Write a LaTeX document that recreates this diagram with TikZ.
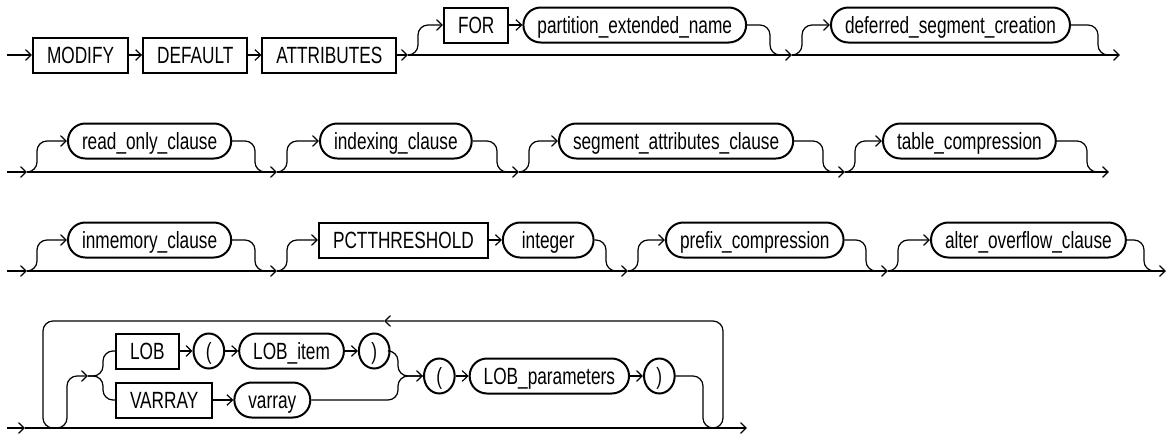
\documentclass[tikz,border=0pt]{standalone}
\usepackage{fontspec}
\setmainfont{Liberation Sans}[FakeStretch=0.735]
\usetikzlibrary{arrows.meta,positioning,calc,shapes.geometric}
\newcommand{\rrfont}{\fontsize{17.6}{20}\selectfont}
\tikzset{
  kw/.style={draw, line width=1.5pt, minimum height=26.25pt, inner xsep=10.5pt, inner ysep=0pt, text height=12.6pt, text depth=0pt, font=\rrfont},
  nt/.style={kw, rounded corners=13pt},
  par/.style={kw, ellipse, minimum width=23pt, inner xsep=0pt},
  arr/.style={-{Straight Barb[length=4.2pt,width=8pt]}, line width=0.9pt},
  ln/.style={line width=0.9pt, rounded corners=7.5pt},
}
\begin{document}
\begin{tikzpicture}[x=0.75pt, y=-0.75pt, node distance=9.75pt]
  \useasboundingbox (0,0) rectangle (1170,439);
  % split and merge points on the main lines
  \coordinate (in1) at (7,55);  \coordinate (s11) at (408,55);  \coordinate (s12) at (792,55);  \coordinate (s13) at (1120,55);
  \coordinate (in2) at (7,172); \coordinate (s21) at (27,172);  \coordinate (s22) at (277,172); \coordinate (s23) at (519,172);
  \coordinate (s24) at (845,172); \coordinate (s25) at (1109,172);
  \coordinate (in3) at (7,271); \coordinate (s31) at (27,271);  \coordinate (s32) at (277,271); \coordinate (s33) at (628,271);
  \coordinate (s34) at (888,271); \coordinate (s35) at (1166,271);
  \coordinate (in4) at (7,428); \coordinate (s41) at (25,428);  \coordinate (s42) at (747,428);
  \coordinate (sp) at (103,376); \coordinate (jn) at (398,376); \coordinate (ex) at (703,428); \coordinate (tp) at (384,321);
  % row 1
  \node[kw, anchor=west] (modify) at (32,55) {MODIFY};
  \node[kw, right=of modify] (default) {DEFAULT};
  \node[kw, right=of default] (attrs) {ATTRIBUTES};
  \node[kw, anchor=west] (for) at (443,25) {FOR};
  \node[nt, right=of for] (pext) {partition\_extended\_name};
  \node[nt, anchor=west] (dsc) at (830,25) {deferred\_segment\_creation};
  % row 2
  \node[nt, anchor=west] (ro) at (67,141) {read\_only\_clause};
  \node[nt, anchor=west] (idx) at (319,141) {indexing\_clause};
  \node[nt, anchor=west] (seg) at (558,141) {segment\_attributes\_clause};
  \node[nt, anchor=west] (tc) at (882,141) {table\_compression};
  % row 3
  \node[nt, anchor=west] (inm) at (67,240) {inmemory\_clause};
  \node[kw, anchor=west] (pct) at (318,240) {PCTTHRESHOLD};
  \node[nt, right=of pct, minimum width=68pt] (int) {integer};
  \node[nt, anchor=west] (pfx) at (665,240) {prefix\_compression};
  \node[nt, anchor=west] (aoc) at (930,240) {alter\_overflow\_clause};
  % row 4
  \node[kw, anchor=west] (lob) at (115,351) {LOB};
  \node[par, right=of lob] (lpo) {(};
  \node[nt, right=of lpo] (lit) {LOB\_item};
  \node[par, right=of lit] (lpc) {)};
  \node[kw, anchor=west] (var) at (115,400) {VARRAY};
  \node[nt, right=15pt of var] (varr) {varray};
  \node[par, anchor=west] (bpo) at (423,376) {(};
  \node[nt, right=of bpo] (lobp) {LOB\_parameters};
  \node[par, right=of lobp] (bpc) {)};
  % connectors
  \draw[arr] (in1) -- (modify); \draw[arr] (modify) -- (default); \draw[arr] (default) -- (attrs); \draw[arr] (attrs) -- (s11);
  \draw[arr] (for) -- (pext); \draw[arr] (pct) -- (int);
  \draw[arr] (in2) -- (s21); \draw[arr] (in3) -- (s31);
  \foreach \fa/\fb/\sa/\sb in {for/pext/s11/s12, dsc/dsc/s12/s13, ro/ro/s21/s22, idx/idx/s22/s23, seg/seg/s23/s24,
      tc/tc/s24/s25, inm/inm/s31/s32, pct/int/s32/s33, pfx/pfx/s33/s34, aoc/aoc/s34/s35} {
    \draw[arr] (\sa) -- (\sb);
    \draw[ln, arr] (\sa) -- ++(10,0) |- (\fa.west);
    \draw[ln] (\fb.east) -| ($(\sb)+(-22,0)$) -- ++(10,0);
  }
  % repeated lob / varray part
  \draw[arr] (in4) -- (s41); \draw[arr] (s41) -- (s42);
  \draw[ln, arr] ($(s41)+(32,0)$) -- ++(10,0) |- ($(sp)+(-15,0)$);
  \foreach \n in {lob,var} \draw[ln] ($(sp)+(-15,0)$) -- (sp) |- (\n.west);
  \draw[arr] (lob) -- (lpo); \draw[arr] (lpo) -- (lit); \draw[arr] (lit) -- (lpc); \draw[arr] (var) -- (varr);
  \draw[ln] (varr.east) -| (jn) -- (bpo.west);
  \draw[ln, arr] (lpc.east) -| (jn) -- (bpo.west);
  \draw[arr] (bpo) -- (lobp); \draw[arr] (lobp) -- (bpc);
  \draw[ln] (bpc.east) -| (ex) -- ++(10,0);
  \draw[ln, arr] ($(ex)+(10,0)$) -- ++(10,0) |- (tp);
  \draw[ln] (tp) -| ($(s41)+(18,0)$) -- ++(10,0);
\end{tikzpicture}
\end{document}
